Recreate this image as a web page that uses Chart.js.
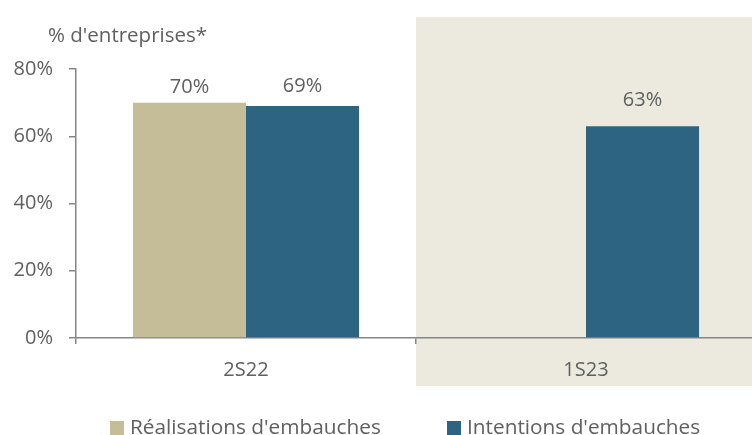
<!DOCTYPE html>
<html>
<head>
<meta charset="utf-8">
<script src="https://cdn.jsdelivr.net/npm/chart.js@4"></script>
<style>
html,body{margin:0;padding:0;background:#fff;overflow:hidden;}
#wrap{width:752px;height:435px;position:relative;overflow:hidden;}
</style>
</head>
<body>
<div id="wrap"><canvas id="c" width="756" height="435"></canvas></div>
<script>
const categories = ['2S22', '1S23'];
const realisations = [70, null];
const intentions = [69, 63];
const yTicks = [0, 20, 40, 60, 80];
const seriesNames = ["Réalisations d'embauches", "Intentions d'embauches"];
const axisTitle = "% d'entreprises*";

// style: vertical gap (px) between bar top and its value label, per dataset / point
const labelGaps = [[15, 15], [20, 26]];

const TAN = '#C4BD97';
const BLUE = '#2D6482';
const SHADE = '#ECE9DF';
const TXT = '#606060';
const AXIS = '#868686';
const FONT = "'Open Sans', sans-serif";
const FS = 20;

const shadePlugin = {
  id: 'shade',
  beforeDraw(chart) {
    const x = chart.scales.x;
    const ctx = chart.ctx;
    const x0 = (x.getPixelForValue(0) + x.getPixelForValue(1)) / 2;
    ctx.save();
    ctx.fillStyle = SHADE;
    ctx.fillRect(x0, 17, chart.width - x0, 386 - 17);
    ctx.restore();
  }
};

const labelPlugin = {
  id: 'labels',
  afterDatasetsDraw(chart) {
    const ctx = chart.ctx;
    ctx.save();
    ctx.font = FS + 'px ' + FONT;
    ctx.fillStyle = TXT;
    ctx.textAlign = 'center';
    ctx.textBaseline = 'middle';
    chart.data.datasets.forEach((ds, di) => {
      const meta = chart.getDatasetMeta(di);
      meta.data.forEach((bar, i) => {
        const v = ds.data[i];
        if (v === null || v === undefined) return;
        ctx.fillText(v + '%', bar.x, bar.y - labelGaps[di][i]);
      });
    });
    // axis title
    ctx.textAlign = 'left';
    ctx.font = '20.5px ' + FONT;
    ctx.fillText(axisTitle, 48, 36);
    // legend
    ctx.font = '20.8px ' + FONT;
    const colors = [TAN, BLUE];
    const xs = [110, 447];
    const cy = 428;
    seriesNames.forEach((n, i) => {
      ctx.fillStyle = colors[i];
      ctx.fillRect(xs[i], cy - 7, 14, 14);
      ctx.fillStyle = TXT;
      ctx.fillText(n, xs[i] + 20, cy);
    });
    ctx.restore();
  }
};

new Chart(document.getElementById('c'), {
  type: 'bar',
  data: {
    labels: categories,
    datasets: [
      { label: seriesNames[0], data: realisations, backgroundColor: TAN, borderWidth: 0 },
      { label: seriesNames[1], data: intentions, backgroundColor: BLUE, borderWidth: 0 }
    ]
  },
  options: {
    responsive: false,
    animation: false,
    devicePixelRatio: 1,
    layout: { padding: { top: 69, left: 0, right: 0, bottom: 49 } },
    plugins: { legend: { display: false }, tooltip: { enabled: false } },
    datasets: { bar: { barPercentage: 1, categoryPercentage: 0.665 } },
    scales: {
      x: {
        grid: { offset: true, drawOnChartArea: false, drawTicks: true, tickLength: 6, color: AXIS, lineWidth: 1.5 },
        border: { display: true, color: AXIS, width: 1.5 },
        ticks: { color: TXT, font: { family: FONT, size: FS }, padding: 14 },
        afterFit(s) { s.height = 48; }
      },
      y: {
        min: 0, max: 80,
        afterBuildTicks(s) { s.ticks = yTicks.map(v => ({ value: v })); },
        grid: { drawOnChartArea: false, drawTicks: true, tickLength: 7, color: AXIS, lineWidth: 1.5 },
        border: { display: true, color: AXIS, width: 1.5 },
        ticks: { color: TXT, font: { family: FONT, size: FS }, padding: 16, callback: v => v + '%' },
        afterFit(s) { s.width = 76; }
      }
    }
  },
  plugins: [shadePlugin, labelPlugin]
});
</script>
</body>
</html>
